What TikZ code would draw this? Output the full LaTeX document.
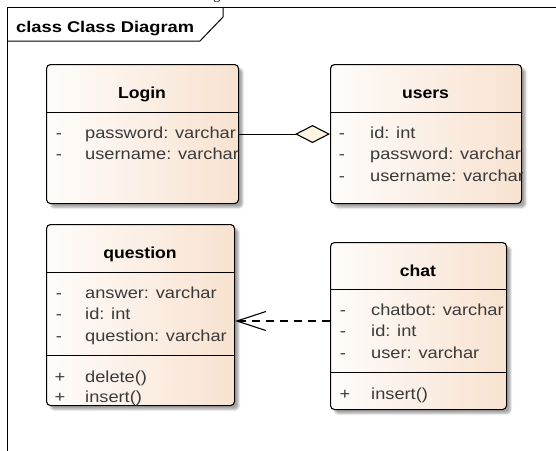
\documentclass[tikz,border=0pt]{standalone}
\usepackage{fontspec}
\setmainfont{Liberation Sans}
\newfontfamily\attrfont{Liberation Sans}[FakeStretch=1.14]
\newfontfamily\titlefont{Liberation Sans}[FakeStretch=1.1]
\newfontfamily\framefont{Liberation Sans}[FakeStretch=1.18]
\newfontfamily\capfont{Liberation Serif}
\usetikzlibrary{arrows.meta,shadows.blur}
\definecolor{boxL}{HTML}{FEFCFA}
\definecolor{boxR}{HTML}{F8E2D0}
\definecolor{txt}{HTML}{3A3A3A}
\definecolor{diam}{HTML}{FDF4E2}
\begin{document}
\begin{tikzpicture}[x=1pt,y=-1pt,
  classbox/.style={draw=black, line width=1.1pt, rounded corners=4pt,
    left color=boxL, right color=boxR, inner sep=0pt, anchor=north west,
    blur shadow={shadow xshift=4pt, shadow yshift=-4pt, shadow blur radius=2pt, shadow opacity=35}},
  septline/.style={draw=black, line width=1pt},
  attr/.style={font=\attrfont\fontsize{16}{18}\selectfont, text=txt, inner sep=0pt, anchor=base west},
  vis/.style={font=\attrfont\fontsize{16}{18}\selectfont, text=txt, inner sep=0pt, anchor=base},
  title/.style={font=\titlefont\bfseries\fontsize{16}{18}\selectfont, text=black, inner sep=0pt, anchor=base},
  aggr/.style={line width=1.1pt, -{Diamond[length=35pt,width=18pt,fill=diam,line width=1.1pt]}},
  depend/.style={line width=1.1pt, dash pattern=on 8pt off 6pt, -{Straight Barb[length=29pt,width=19pt,line width=1.1pt]}},
  framel/.style={draw=black, line width=1pt}
]
\useasboundingbox (0,0) rectangle (556,450);

% cut-off caption above the frame
\node[font=\capfont\fontsize{14}{16}\selectfont, inner sep=0pt, anchor=base east] (caption) at (242.3,-0.5) {Class Diagram};

% frame
\draw[framel] (7,452) -- (7,7) -- (557,7);
\draw[framel] (7,41) -- (200,41) -- (223,17) -- (223,7);
\node[font=\framefont\bfseries\fontsize{15.5}{17}\selectfont, inner sep=0pt, anchor=base west] (frametitle) at (16,32) {class Class Diagram};

% ---------- Login ----------
\node[classbox, minimum width=192pt, minimum height=139pt] (login) at (46,64) {};
\draw[septline] ([yshift=-48pt]login.north west) -- ([yshift=-48pt]login.north east);
\node[title] (logint) at (142,98) {Login};
\begin{scope}
\clip (login.north west) rectangle (login.south east);
\node[vis] (l1v) at (59,138) {-};
\node[attr] (l1) at (85,138) {password: varchar};
\node[vis] (l2v) at (59,159.5) {-};
\node[attr] (l2) at (85,159.5) {username: varchar};
\end{scope}

% ---------- users ----------
\node[classbox, minimum width=191pt, minimum height=139pt] (users) at (330,64) {};
\draw[septline] ([yshift=-48pt]users.north west) -- ([yshift=-48pt]users.north east);
\node[title] (userst) at (425.5,98) {users};
\begin{scope}
\clip (users.north west) rectangle (users.south east);
\node[vis] (u1v) at (342,138) {-};
\node[attr] (u1) at (370,138) {id: int};
\node[vis] (u2v) at (342,159.5) {-};
\node[attr] (u2) at (370,159.5) {password: varchar};
\node[vis] (u3v) at (342,181) {-};
\node[attr] (u3) at (370,181) {username: varchar};
\end{scope}

% ---------- question ----------
\node[classbox, minimum width=188pt, minimum height=181pt] (question) at (46,224) {};
\draw[septline] ([yshift=-48pt]question.north west) -- ([yshift=-48pt]question.north east);
\draw[septline] ([yshift=-131pt]question.north west) -- ([yshift=-131pt]question.north east);
\node[title] (questiont) at (140,258) {question};
\begin{scope}
\clip (question.north west) rectangle (question.south east);
\node[vis] (q1v) at (59,298) {-};
\node[attr] (q1) at (85,298) {answer: varchar};
\node[vis] (q2v) at (59,319.5) {-};
\node[attr] (q2) at (85,319.5) {id: int};
\node[vis] (q3v) at (59,341) {-};
\node[attr] (q3) at (85,341) {question: varchar};
\node[vis] (q4v) at (60,382) {+};
\node[attr] (q4) at (85,382) {delete()};
\node[vis] (q5v) at (60,402) {+};
\node[attr] (q5) at (85,402) {insert()};
\end{scope}

% ---------- chat ----------
\node[classbox, minimum width=176pt, minimum height=167pt] (chat) at (330,242) {};
\draw[septline] ([yshift=-47pt]chat.north west) -- ([yshift=-47pt]chat.north east);
\draw[septline] ([yshift=-130pt]chat.north west) -- ([yshift=-130pt]chat.north east);
\node[title] (chatt) at (418,276) {chat};
\begin{scope}
\clip (chat.north west) rectangle (chat.south east);
\node[vis] (c1v) at (343,315) {-};
\node[attr] (c1) at (371,315) {chatbot: varchar};
\node[vis] (c2v) at (343,336.5) {-};
\node[attr] (c2) at (371,336.5) {id: int};
\node[vis] (c3v) at (343,358) {-};
\node[attr] (c3) at (371,358) {user: varchar};
\node[vis] (c4v) at (345,399) {+};
\node[attr] (c4) at (371,399) {insert()};
\end{scope}

% ---------- connectors ----------
\draw[aggr] (login.east) -- (users.west);
\coordinate (depy) at (0,321);
\draw[depend] (chat.west |- depy) -- (question.east |- depy);
\end{tikzpicture}
\end{document}
